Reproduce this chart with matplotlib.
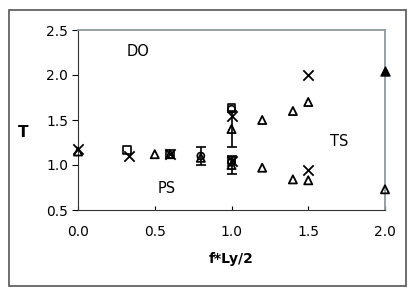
import matplotlib.pyplot as plt
from matplotlib.patches import Rectangle

# data
cross_x = [0.0, 0.33, 0.6, 1.0, 1.0, 1.5, 1.5]
cross_y = [1.18, 1.10, 1.12, 1.55, 1.05, 2.00, 0.95]

square_x = [0.32, 1.0, 1.0, 0.6]
square_y = [1.17, 1.63, 1.05, 1.12]

circle_x = [0.8, 1.0, 1.0]
circle_y = [1.10, 1.62, 1.03]

tri_x = [0.0, 0.5, 0.6, 0.8, 1.0, 1.0, 1.2, 1.2, 1.4, 1.4, 1.5, 1.5, 2.0]
tri_y = [1.15, 1.12, 1.12, 1.08, 1.40, 1.00, 1.50, 0.97, 1.60, 0.84, 1.70, 0.83, 0.73]

solid_x = [2.0]
solid_y = [2.05]

err_x = [0.8, 1.0, 1.0]
err_y = [1.10, 1.40, 1.00]
err_d = [0.10, 0.20, 0.10]

regions = ["DO", "PS", "TS"]
region_x = [0.39, 0.58, 1.70]
region_y = [2.26, 0.74, 1.26]

fig = plt.figure(figsize=(4.15, 2.94), dpi=100)
fig.patches.append(Rectangle((9/415, 1 - 286/294), 397/415, 276/294,
                             transform=fig.transFigure, fill=False,
                             edgecolor='#555555', linewidth=1.2))
ax = fig.add_axes([78/415, 1 - 210/294, 307/415, 180/294])

ax.errorbar(err_x, err_y, yerr=err_d, fmt='none', ecolor='black',
            elinewidth=1.2, capsize=3.5, capthick=1.2, zorder=2)
ax.scatter(square_x, square_y, marker='s', s=32, facecolors='none',
           edgecolors='black', linewidths=1.2, zorder=3)
ax.scatter(circle_x, circle_y, marker='o', s=26, facecolors='none',
           edgecolors='black', linewidths=1.2, zorder=3)
ax.scatter(tri_x, tri_y, marker='^', s=34, facecolors='none',
           edgecolors='black', linewidths=1.3, zorder=4, clip_on=False)
ax.scatter(solid_x, solid_y, marker='^', s=42, color='black', zorder=4,
           clip_on=False)
ax.scatter(cross_x, cross_y, marker='x', s=55, color='black',
           linewidths=1.3, zorder=5, clip_on=False)

for name, x, y in zip(regions, region_x, region_y):
    ax.text(x, y, name, ha='center', va='center', fontsize=10.5)

ax.set_xlim(0, 2.0)
ax.set_ylim(0.5, 2.5)
ax.set_xticks([0.0, 0.5, 1.0, 1.5, 2.0])
ax.set_yticks([0.5, 1.0, 1.5, 2.0, 2.5])
ax.set_xticklabels(['0.0', '0.5', '1.0', '1.5', '2.0'])
ax.set_yticklabels(['0.5', '1.0', '1.5', '2.0', '2.5'])
ax.tick_params(axis='x', direction='in', length=3, labelsize=10, pad=11)
ax.tick_params(axis='y', direction='out', length=4, labelsize=10, pad=3)

for side in ['left', 'bottom']:
    ax.spines[side].set_color('#333333')
for side in ['top', 'right']:
    ax.spines[side].set_color('#8c9a9e')
    ax.spines[side].set_linewidth(1.3)

ax.set_xlabel('f*Ly/2', fontweight='bold', fontsize=10, va='center')
ax.xaxis.set_label_coords(0.5, -0.27)
ax.set_ylabel('T', fontweight='bold', fontsize=11, rotation=0,
              ha='center', va='center')
ax.yaxis.set_label_coords(-0.18, 0.43)

fig.savefig('out.png', dpi=100)
